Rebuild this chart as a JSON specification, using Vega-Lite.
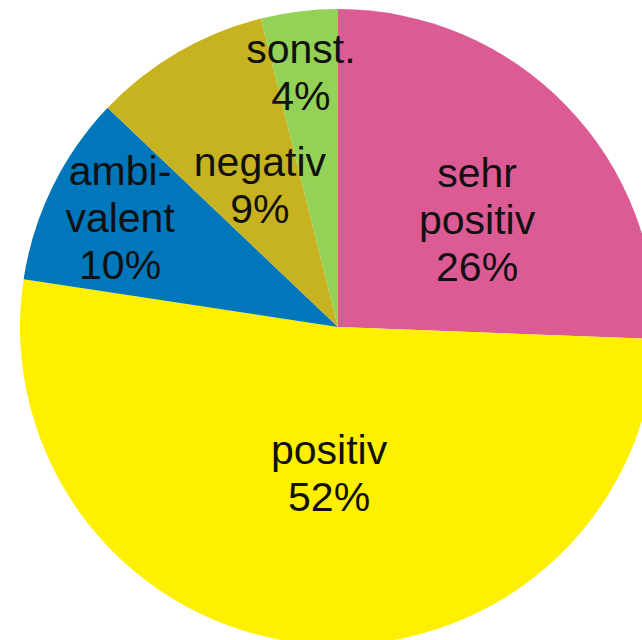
{
  "$schema": "https://vega.github.io/schema/vega-lite/v6.json",
  "width": 608,
  "height": 626,
  "autosize": {"type": "none"},
  "padding": {"left": 34, "top": 14, "right": 0, "bottom": 0},
  "background": "white",
  "view": {"stroke": null},
  "data": {
    "values": [
      {"idx": 1, "kat": "sehr positiv", "anteil": 25.6, "label": "sehr\npositiv\n26%"},
      {"idx": 2, "kat": "positiv", "anteil": 51.8, "label": "positiv\n52%"},
      {"idx": 3, "kat": "ambivalent", "anteil": 9.7, "label": "ambi-\nvalent\n10%"},
      {"idx": 4, "kat": "negativ", "anteil": 9.0, "label": "negativ\n9%"},
      {"idx": 5, "kat": "sonst.", "anteil": 3.9, "label": "sonst.\n4%"}
    ]
  },
  "encoding": {
    "theta": {"field": "anteil", "type": "quantitative", "stack": true},
    "order": {"field": "idx", "type": "quantitative"}
  },
  "layer": [
    {
      "mark": {"type": "arc", "radius": 318},
      "encoding": {
        "color": {
          "field": "kat",
          "type": "nominal",
          "scale": {
            "domain": ["sehr positiv", "positiv", "ambivalent", "negativ", "sonst."],
            "range": ["#DD5B94", "#FFF000", "#0077BB", "#C7B320", "#94D157"]
          },
          "legend": null
        }
      }
    },
    {
      "mark": {
        "type": "text",
        "font": "Liberation Sans",
        "fontSize": 41,
        "lineHeight": 47,
        "lineBreak": "\n",
        "color": "#111111",
        "align": "center",
        "baseline": "middle",
        "radius": {"expr": "datum.kat === 'sehr positiv' ? 175 : datum.kat === 'positiv' ? 148 : datum.kat === 'ambivalent' ? 246 : datum.kat === 'negativ' ? 161 : 255"},
        "dx": {"expr": "datum.kat === 'sehr positiv' ? 13 : datum.kat === 'positiv' ? 5 : datum.kat === 'sonst.' ? -6 : 3"},
        "dy": {"expr": "datum.kat === 'sehr positiv' ? -31 : datum.kat === 'positiv' ? -22 : datum.kat === 'ambivalent' ? -46 : datum.kat === 'negativ' ? -24 : -23"}
      },
      "encoding": {
        "text": {"field": "label", "type": "nominal"}
      }
    }
  ]
}
